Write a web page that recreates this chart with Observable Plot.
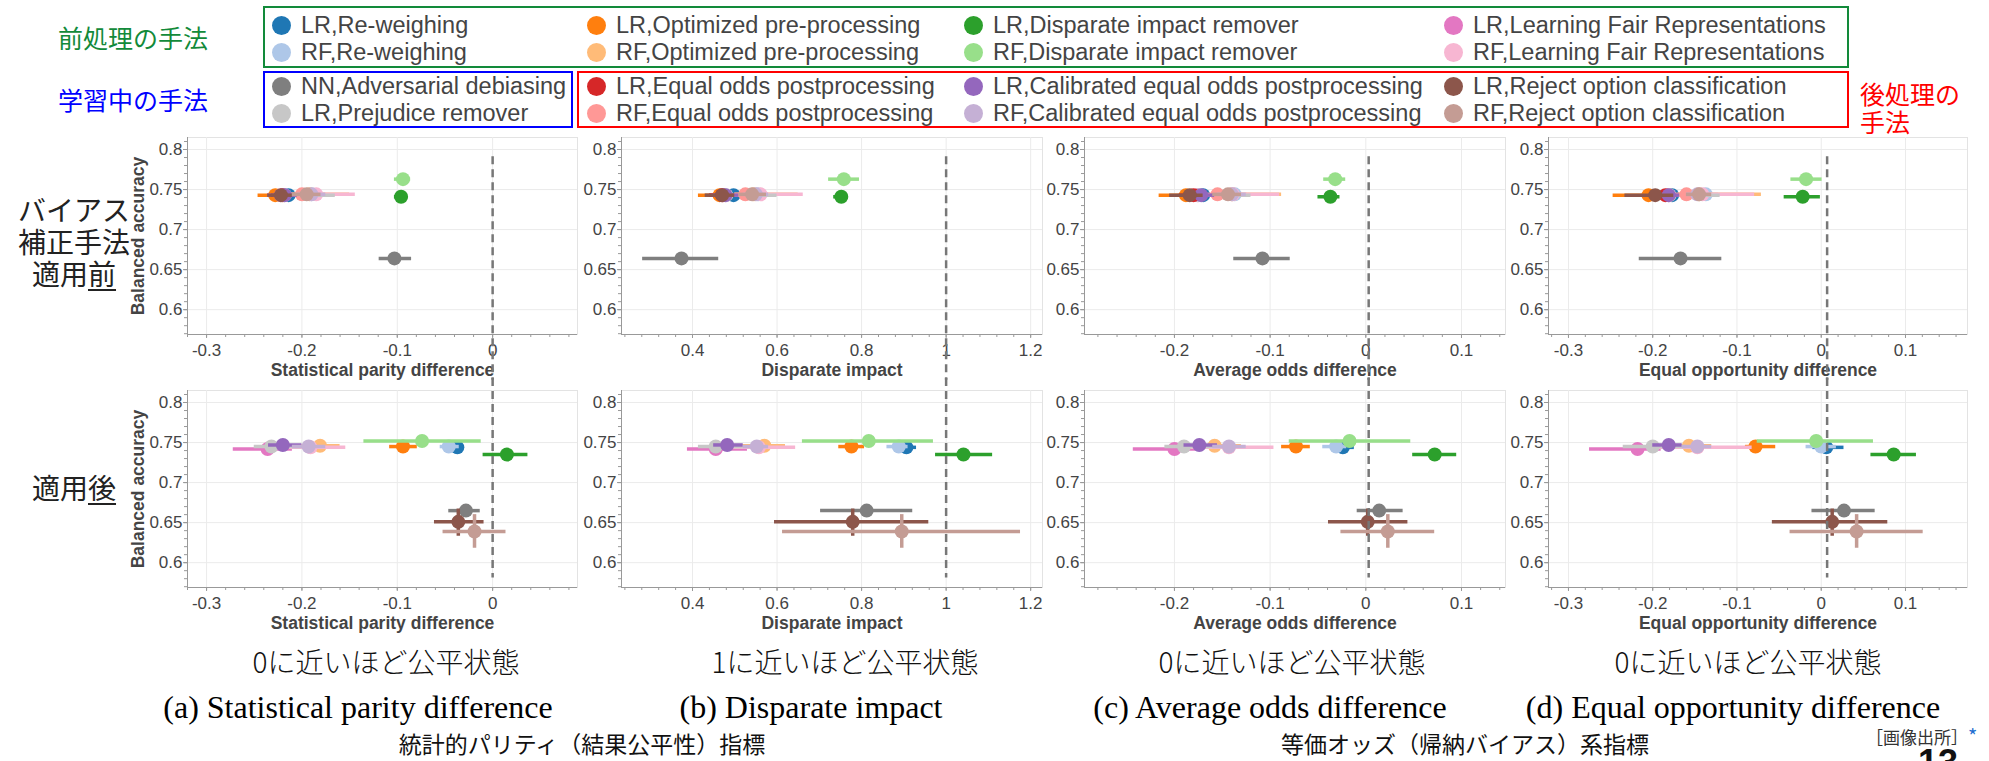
<!DOCTYPE html>
<html><head><meta charset="utf-8">
<script src="https://cdn.jsdelivr.net/npm/d3@7"></script>
<script src="https://cdn.jsdelivr.net/npm/@observablehq/plot@0.6"></script>
<style>
body{margin:0;background:#fff;}
#root{position:relative;width:1989px;height:761px;overflow:hidden;background:#fff;font-family:"Liberation Sans",Arial,sans-serif;}
.abs{position:absolute;white-space:nowrap;}
.box{position:absolute;border:2px solid;box-sizing:border-box;}
.leg{position:absolute;font-size:23.5px;color:#444;white-space:nowrap;line-height:26px;height:26px;}
.dotc{position:absolute;width:19px;height:19px;border-radius:50%;}
.jp{font-family:"Noto Sans CJK JP",sans-serif;}
.ctr{transform:translateX(-50%);text-align:center;}
</style></head><body><div id="root"></div>
<script>
// ---------- data ----------
const seriesNames = [
  "LR,Re-weighing","RF,Re-weighing",
  "LR,Optimized pre-processing","RF,Optimized pre-processing",
  "LR,Disparate impact remover","RF,Disparate impact remover",
  "LR,Learning Fair Representations","RF,Learning Fair Representations",
  "NN,Adversarial debiasing","LR,Prejudice remover",
  "LR,Equal odds postprocessing","RF,Equal odds postprocessing",
  "LR,Calibrated equal odds postprocessing","RF,Calibrated equal odds postprocessing",
  "LR,Reject option classification","RF,Reject option classification"
];
const seriesColors = [
  "#1f77b4","#aec7e8","#ff7f0e","#ffbb78","#2ca02c","#98df8a","#e377c2","#f7b6d2",
  "#7f7f7f","#c7c7c7","#d62728","#ff9896","#9467bd","#c5b0d5","#8c564b","#c49c94"
];
const metricLabels = ["Statistical parity difference","Disparate impact","Average odds difference","Equal opportunity difference"];
const fairValues = [0, 1, 0.003, 0.007];
const xTickValues = [[-0.3,-0.2,-0.1,0],[0.4,0.6,0.8,1,1.2],[-0.2,-0.1,0,0.1],[-0.3,-0.2,-0.1,0,0.1]];
const yTickValues = [0.6,0.65,0.7,0.75,0.8];

// balanced accuracy (y) per series
const accBefore = [0.743,0.744,0.743,0.744,0.741,0.763,0.743,0.744,0.664,0.743,0.743,0.744,0.743,0.744,0.743,0.744];
const accAfter  = [0.744,0.745,0.745,0.746,0.735,0.752,0.742,0.744,0.665,0.745,null,null,0.747,0.745,0.651,0.639];
const accAfterRange = [null,null,null,null,null,null,null,null,null,null,null,null,null,null,[0.633,0.667],[0.618,0.66]];

// [value, low, high] per series
const spdBefore = [[-0.214,-0.228,-0.202],[-0.19,-0.205,-0.175],[-0.228,-0.246,-0.21],[-0.192,-0.212,-0.15],[-0.096,-0.103,-0.09],[-0.094,-0.103,-0.086],[-0.222,-0.236,-0.205],[-0.185,-0.205,-0.144],[-0.103,-0.119,-0.085],[-0.218,-0.232,-0.165],[-0.22,-0.232,-0.208],[-0.2,-0.215,-0.185],[-0.218,-0.23,-0.205],[-0.19,-0.205,-0.175],[-0.222,-0.236,-0.21],[-0.195,-0.21,-0.18]];
const diBefore  = [[0.497,0.47,0.52],[0.555,0.53,0.58],[0.464,0.414,0.5],[0.545,0.5,0.65],[0.752,0.734,0.769],[0.758,0.722,0.795],[0.473,0.44,0.51],[0.561,0.52,0.662],[0.374,0.282,0.462],[0.48,0.45,0.6],[0.47,0.44,0.5],[0.525,0.5,0.56],[0.478,0.45,0.51],[0.55,0.52,0.58],[0.47,0.43,0.5],[0.541,0.51,0.575]];
const aodBefore = [[-0.17,-0.182,-0.158],[-0.137,-0.15,-0.124],[-0.188,-0.216,-0.165],[-0.14,-0.16,-0.088],[-0.037,-0.05,-0.027],[-0.032,-0.044,-0.021],[-0.176,-0.19,-0.16],[-0.139,-0.16,-0.09],[-0.108,-0.138,-0.079],[-0.175,-0.19,-0.12],[-0.18,-0.195,-0.165],[-0.155,-0.17,-0.14],[-0.172,-0.186,-0.158],[-0.14,-0.155,-0.125],[-0.184,-0.205,-0.17],[-0.144,-0.16,-0.13]];
const eodBefore = [[-0.177,-0.19,-0.165],[-0.137,-0.15,-0.122],[-0.205,-0.247,-0.17],[-0.145,-0.17,-0.071],[-0.022,-0.044,-0.001],[-0.018,-0.036,0.001],[-0.181,-0.2,-0.16],[-0.141,-0.165,-0.079],[-0.167,-0.216,-0.118],[-0.18,-0.2,-0.12],[-0.185,-0.2,-0.17],[-0.16,-0.175,-0.145],[-0.181,-0.195,-0.168],[-0.147,-0.16,-0.132],[-0.197,-0.233,-0.175],[-0.145,-0.16,-0.13]];

const spdAfter = [[-0.037,-0.05,-0.03],[-0.046,-0.055,-0.035],[-0.094,-0.108,-0.079],[-0.181,-0.2,-0.16],[0.015,-0.01,0.037],[-0.074,-0.135,-0.012],[-0.236,-0.272,-0.21],[-0.191,-0.22,-0.154],[-0.028,-0.046,-0.013],[-0.232,-0.25,-0.2],null,null,[-0.22,-0.235,-0.2],[-0.193,-0.21,-0.175],[-0.036,-0.061,-0.009],[-0.019,-0.052,0.014]];
const diAfter  = [[0.906,0.88,0.93],[0.888,0.86,0.91],[0.776,0.746,0.807],[0.57,0.5,0.62],[1.041,0.975,1.11],[0.817,0.66,0.97],[0.455,0.388,0.53],[0.557,0.48,0.644],[0.812,0.703,0.921],[0.455,0.414,0.52],null,null,[0.482,0.45,0.52],[0.552,0.52,0.58],[0.779,0.594,0.959],[0.895,0.613,1.176]];
const aodAfter = [[-0.024,-0.035,-0.012],[-0.031,-0.045,-0.02],[-0.073,-0.088,-0.058],[-0.158,-0.18,-0.13],[0.072,0.049,0.095],[-0.017,-0.08,0.047],[-0.2,-0.243,-0.17],[-0.143,-0.19,-0.096],[0.014,-0.009,0.039],[-0.19,-0.21,-0.15],null,null,[-0.174,-0.19,-0.155],[-0.143,-0.16,-0.125],[0.002,-0.039,0.044],[0.023,-0.026,0.072]];
const eodAfter = [[0.006,-0.01,0.027],[0.0,-0.018,0.018],[-0.078,-0.09,-0.054],[-0.157,-0.18,-0.13],[0.086,0.059,0.113],[-0.006,-0.076,0.062],[-0.218,-0.275,-0.19],[-0.147,-0.2,-0.082],[0.027,-0.011,0.064],[-0.2,-0.235,-0.16],null,null,[-0.181,-0.2,-0.165],[-0.147,-0.165,-0.13],[0.013,-0.058,0.079],[0.042,-0.037,0.121]];

const fairnessNotes = ["0に近いほど公平状態","1に近いほど公平状態","0に近いほど公平状態","0に近いほど公平状態"];
const captions = ["(a) Statistical parity difference","(b) Disparate impact","(c) Average odds difference","(d) Equal opportunity difference"];

// ---------- layout ----------
const root = document.getElementById("root");
function addDiv(html, css, cls) {
  const d = document.createElement("div");
  d.className = cls || "abs";
  d.innerHTML = html;
  Object.assign(d.style, css);
  root.appendChild(d);
  return d;
}

// legend boxes
addDiv("", {left:"263px", top:"6px", width:"1586px", height:"62px", borderColor:"#128a3a"}, "box");
addDiv("", {left:"263px", top:"71px", width:"310px", height:"57px", borderColor:"#0000ff"}, "box");
addDiv("", {left:"577px", top:"71px", width:"1272px", height:"57px", borderColor:"#ff0000"}, "box");
addDiv("前処理の手法", {left:"58px", top:"21px", fontSize:"25px", lineHeight:"32px", color:"#128a3a"}, "abs jp");
addDiv("学習中の手法", {left:"58px", top:"83px", fontSize:"25px", lineHeight:"32px", color:"#0000ff"}, "abs jp");
addDiv("後処理の<br>手法", {left:"1860px", top:"79px", fontSize:"25px", lineHeight:"28px", color:"#ff0000", whiteSpace:"normal"}, "abs jp");

const legCols = [281, 596, 973, 1453];
const legRows = [25, 52, 86, 113];
seriesNames.forEach((name, i) => {
  const group = Math.floor(i / 2);
  const col = group % 4;
  const row = (group < 4 ? 0 : 2) + (i % 2);
  const cx = legCols[col], cy = legRows[row];
  addDiv("", {left:(cx-9.5)+"px", top:(cy-9.5)+"px", background:seriesColors[i]}, "dotc");
  addDiv(name, {left:(cx+20)+"px", top:(cy-13)+"px"}, "leg");
});

// row labels
const rowLabelLines = [["バイアス", 209], ["補正手法", 241], ["適用<span style='text-decoration:underline;text-underline-offset:4px'>前</span>", 273],
                       ["適用<span style='text-decoration:underline;text-underline-offset:4px'>後</span>", 487]];
rowLabelLines.forEach(([t, cy]) => addDiv(t, {left:"10px", top:(cy-16)+"px", width:"128px", textAlign:"center", fontSize:"28px", lineHeight:"32px", color:"#222"}, "abs jp"));

// panels
const frames = [{l:187,r:577},{l:621,r:1042},{l:1084,r:1505},{l:1548,r:1967}];
const xDomains = [[-0.32,0.089],[0.232,1.228],[-0.294,0.146],[-0.3237,0.1736]];
const xMinorStep = [0.02,0.04,0.02,0.02];
const yDomain = [0.569, 0.815];
const beforeSets = [spdBefore, diBefore, aodBefore, eodBefore];
const afterSets = [spdAfter, diAfter, aodAfter, eodAfter];

function stepsIn(dom, step) {
  const a = Math.ceil(dom[0]/step - 1e-9), b = Math.floor(dom[1]/step + 1e-9);
  return d3.range(a, b + 1).map(k => +(k*step).toFixed(4));
}
const fmtNum = d => String(+d.toFixed(2));

function makePanel(m, row) {
  const f = frames[m];
  const rc = row === 0 ? {top:128, mt:9, mb:51, h:257} : {top:376, mt:14, mb:49, h:260};
  const ml = m === 0 ? 87 : 60, mr = 8;
  const width = ml + (f.r - f.l) + mr;
  const set = row === 0 ? beforeSets[m] : afterSets[m];
  const accs = row === 0 ? accBefore : accAfter;
  const rows = [];
  seriesNames.forEach((name, i) => {
    if (!set[i] || accs[i] == null) return;
    const yr = row === 1 ? accAfterRange[i] : null;
    rows.push({name, color: seriesColors[i], x: set[i][0], lo: set[i][1], hi: set[i][2], y: accs[i],
      ylo: yr ? yr[0] : null, yhi: yr ? yr[1] : null});
  });
  const marks = [
    Plot.frame({stroke:"#e3e3e3"}),
    Plot.gridX(xTickValues[m], {stroke:"#ebebeb", strokeOpacity:1}),
    Plot.gridY(yTickValues, {stroke:"#ebebeb", strokeOpacity:1}),
    Plot.axisX(stepsIn(xDomains[m], xMinorStep[m]), {tickSize:3, tickFormat: () => "", stroke:"#999", label:null}),
    Plot.axisY(stepsIn(yDomain, 0.01), {tickSize:3, tickFormat: () => "", stroke:"#999", label:null}),
    Plot.axisX(xTickValues[m], {tickSize:4, tickPadding:5, tickFormat: fmtNum, fontSize:17, stroke:"#999", label:null}),
    Plot.axisY(yTickValues, {tickSize:4, tickPadding:1, tickFormat: fmtNum, fontSize:17, stroke:"#999", label:null}),
    Plot.ruleY([yDomain[0]], {stroke:"#999"}),
    Plot.ruleX([xDomains[m][0]], {stroke:"#999"}),
    Plot.text([metricLabels[m]], {frameAnchor:"bottom", lineAnchor:"middle", dy:36, fontWeight:"bold", fontSize:17.5, fill:"#444"})
  ];
  if (m === 0) marks.push(Plot.text(["Balanced accuracy"], {frameAnchor:"left", textAnchor:"middle", lineAnchor:"middle", dx:-49, rotate:-90, fontWeight:"bold", fontSize:17.5, fill:"#444"}));
  rows.forEach(r => {
    marks.push(Plot.ruleY([r], {y:"y", x1:"lo", x2:"hi", stroke:r.color, strokeWidth:3.5}));
    if (r.ylo != null) marks.push(Plot.ruleX([r], {x:"x", y1:"ylo", y2:"yhi", stroke:r.color, strokeWidth:3.5}));
    marks.push(Plot.dot([r], {x:"x", y:"y", r:7, fill:r.color}));
  });
  marks.push(Plot.ruleX([fairValues[m]], {y1: row === 0 ? 0.791 : 0.83, y2: row === 0 ? 0.512 : 0.581,
    stroke:"#777", strokeWidth:2.5, strokeDasharray:"8,5"}));
  const svg = Plot.plot({
    width, height: rc.h, marginLeft: ml, marginRight: mr, marginTop: rc.mt, marginBottom: rc.mb,
    x: {domain: xDomains[m]}, y: {domain: yDomain},
    style: {fontFamily:'"Liberation Sans", Arial, sans-serif', color:"#444", background:"transparent", maxWidth:"none", overflow:"visible"},
    marks
  });
  const wrap = document.createElement("div");
  wrap.className = "abs";
  Object.assign(wrap.style, {left:(f.l - ml)+"px", top:rc.top+"px", width:width+"px", height:rc.h+"px"});
  wrap.appendChild(svg);
  root.appendChild(wrap);
}
for (let row = 0; row < 2; row++) for (let m = 0; m < 4; m++) makePanel(m, row);

// bottom texts
const noteCenters = [386, 845, 1292, 1748];
const capCenters = [358, 811, 1270, 1733];
fairnessNotes.forEach((t, i) => addDiv(t, {left:noteCenters[i]+"px", top:"643px", fontSize:"28px", lineHeight:"36px", color:"#111", fontWeight:"300"}, "abs jp ctr"));
captions.forEach((t, i) => addDiv(t, {left:capCenters[i]+"px", top:"688px", fontSize:"32px", lineHeight:"38px", color:"#000", fontFamily:'"Liberation Serif", "Times New Roman", serif'}, "abs ctr"));
addDiv("統計的パリティ（結果公平性）指標", {left:"582px", top:"730px", fontSize:"23px", lineHeight:"26px", color:"#111"}, "abs jp ctr");
addDiv("等価オッズ（帰納バイアス）系指標", {left:"1465px", top:"730px", fontSize:"23px", lineHeight:"26px", color:"#111"}, "abs jp ctr");
addDiv("［画像出所］<span style='color:#1f6fd0;font-size:20px'>*</span>", {left:"1866px", top:"725px", fontSize:"17px", lineHeight:"22px", color:"#333"}, "abs jp");
addDiv("13", {left:"1918px", top:"745px", fontSize:"36px", lineHeight:"36px", fontWeight:"bold", color:"#111"}, "abs");
</script></body></html>
